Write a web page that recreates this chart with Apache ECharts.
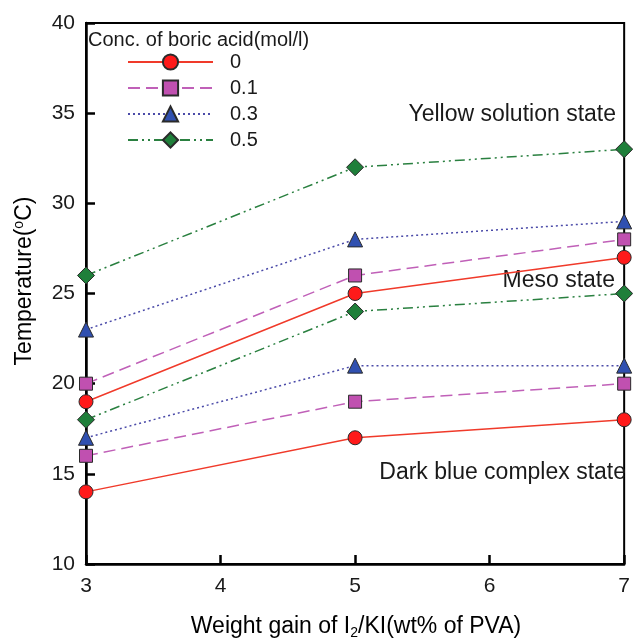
<!DOCTYPE html>
<html>
<head>
<meta charset="utf-8">
<script src="https://cdn.jsdelivr.net/npm/echarts@6/dist/echarts.min.js"></script>
<style>html,body{margin:0;padding:0;background:#fff}#c{width:633px;height:638px}</style>
</head>
<body>
<div id="c"></div>
<script>
// ---- data ----
const xValues = [3, 5, 7];
const seriesNames = ['0', '0.1', '0.3', '0.5'];
const upper_0 = [19, 25, 27];
const lower_0 = [14, 17, 18];
const upper_01 = [20, 26, 28];
const lower_01 = [16, 19, 20];
const upper_03 = [23, 28, 29];
const lower_03 = [17, 21, 21];
const upper_05 = [26, 32, 33];
const lower_05 = [18, 24, 25];
const xTicks = [3, 4, 5, 6, 7];
const yTicks = [10, 15, 20, 25, 30, 35, 40];
const legendTitle = 'Conc. of boric acid(mol/l)';
const regionLabels = ['Yellow solution state', 'Meso state', 'Dark blue complex state'];

// ---- styles ----
const FONT = '"Liberation Sans", Arial, sans-serif';
const styles = {
  '0':   {color: '#f03a2a', fill: '#ff1a1a', symbol: 'circle', size: 14, dash: 'solid'},
  '0.1': {color: '#c060b8', fill: '#c050b0', symbol: 'rect', size: 13, dash: [12, 6]},
  '0.3': {color: '#4a4aa8', fill: '#3050b0', symbol: 'triangle', size: 15, dash: [2, 3]},
  '0.5': {color: '#2a8040', fill: '#1f7f3a', symbol: 'diamond', size: 17, dash: [10, 4, 2, 4, 2, 4]}
};
const pairs = [
  ['0', upper_0, lower_0],
  ['0.1', upper_01, lower_01],
  ['0.3', upper_03, lower_03],
  ['0.5', upper_05, lower_05]
];
function mk(name, vals) {
  const s = styles[name];
  return {
    type: 'line', name: name,
    data: xValues.map((x, i) => [x, vals[i]]),
    symbol: s.symbol, symbolSize: s.size,
    lineStyle: {color: s.color, width: 1.5, type: s.dash},
    itemStyle: {color: s.fill, borderColor: '#2a2a2a', borderWidth: 1},
    emphasis: {disabled: true},
    z: 5
  };
}
const series = [];
pairs.forEach(p => { series.push(mk(p[0], p[1])); series.push(mk(p[0], p[2])); });

const chart = echarts.init(document.getElementById('c'), null, {renderer: 'canvas'});
chart.setOption({
  animation: false,
  backgroundColor: '#fff',
  grid: {left: 86, right: 5, top: 23, bottom: 74, show: true, borderColor: '#000', borderWidth: 2},
  xAxis: {
    type: 'value', min: xTicks[0], max: xTicks[xTicks.length - 1], interval: 1,
    axisLine: {lineStyle: {color: '#000', width: 2.5}},
    axisTick: {inside: true, length: 9, lineStyle: {color: '#000', width: 2.5}},
    axisLabel: {margin: 12, color: '#1a1a1a', fontSize: 21, fontFamily: FONT},
    splitLine: {show: false}
  },
  yAxis: {
    type: 'value', min: yTicks[0], max: yTicks[yTicks.length - 1], interval: 5,
    axisLine: {show: true, lineStyle: {color: '#000', width: 2.5}},
    axisTick: {show: true, inside: true, length: 9, lineStyle: {color: '#000', width: 2.5}},
    axisLabel: {margin: 11, color: '#1a1a1a', fontSize: 21, fontFamily: FONT},
    splitLine: {show: false}
  },
  legend: {
    data: seriesNames,
    orient: 'vertical', left: 122, top: 47,
    itemWidth: 85, itemHeight: 19, itemGap: 6,
    textStyle: {fontSize: 20, fontFamily: FONT, color: '#1a1a1a', lineHeight: 20, padding: [0, 0, 0, 12]},
    selectedMode: false
  },
  graphic: [
    {type: 'text', left: 88, top: 30, style: {text: legendTitle, font: '20px ' + FONT, fill: '#1a1a1a'}},
    {type: 'text', x: 616, y: 115, style: {text: regionLabels[0], font: '23px ' + FONT, fill: '#1a1a1a', align: 'right', verticalAlign: 'middle'}},
    {type: 'text', x: 615, y: 281, style: {text: regionLabels[1], font: '23px ' + FONT, fill: '#1a1a1a', align: 'right', verticalAlign: 'middle'}},
    {type: 'text', x: 626, y: 473, style: {text: regionLabels[2], font: '23px ' + FONT, fill: '#1a1a1a', align: 'right', verticalAlign: 'middle'}},
    {type: 'text', x: 356, y: 627, style: {
      text: '{t|Weight gain of I}{sub|2}{t|/KI(wt% of PVA)}', align: 'center', verticalAlign: 'middle',
      rich: {t: {fontSize: 23, fontFamily: FONT, color: '#1a1a1a'},
             sub: {fontSize: 14, fontFamily: FONT, color: '#1a1a1a', padding: [12, 0, 0, 0]}}}},
    {type: 'text', x: 25, y: 281, rotation: Math.PI / 2, style: {
      text: '{t|Temperature(}{sup|o}{t|C)}', align: 'center', verticalAlign: 'middle',
      rich: {t: {fontSize: 23, fontFamily: FONT, color: '#1a1a1a'},
             sup: {fontSize: 14, fontFamily: FONT, color: '#1a1a1a', padding: [0, 0, 12, 0]}}}}
  ],
  series: series
});
</script>
</body>
</html>
